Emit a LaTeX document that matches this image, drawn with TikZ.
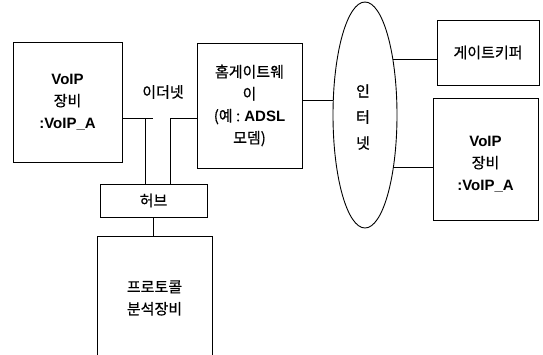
\documentclass[tikz,border=0pt]{standalone}
\usepackage{fontspec}
\setmainfont{Liberation Sans}
\newfontfamily\kr[FakeBold=0.6]{Noto Sans CJK KR}
\usetikzlibrary{shapes.geometric}
\tikzset{
  box/.style={draw, line width=0.9pt, inner sep=0pt, align=center,
    font=\fontsize{15}{22}\selectfont},
  lbl/.style={inner sep=0pt, align=center, font=\fontsize{15}{22}\selectfont},
  wire/.style={line width=0.9pt},
}
\newcommand{\lat}[1]{{\fontsize{15}{22}\selectfont\bfseries #1}}
\begin{document}
\begin{tikzpicture}[x=1pt,y=-1pt]
\useasboundingbox (0,0) rectangle (543,354);
% boxes
\node[box, minimum width=109pt, minimum height=120pt] (lv) at (67.5,102)
  {\lat{VoIP}\\{\kr 장비}\\\lat{:VoIP\_A}};
\node[box, minimum width=105pt, minimum height=125pt] (gw) at (249.5,105.5)
  {{\kr 홈게이트웨}\\{\kr 이}\\{\kr (예\ :}\ \lat{ADSL}\\{\kr 모뎀)}};
\node[draw, line width=0.9pt, ellipse, inner sep=0pt, minimum width=64pt, minimum height=226pt] (net) at (365,115) {};
\node[lbl] (nettext) at (363,117) {{\kr 인}\\[4pt]{\kr 터}\\[4pt]{\kr 넷}};
\node[box, minimum width=102pt, minimum height=65pt] (gk) at (488,52.5) {\kr 게이트키퍼};
\node[box, minimum width=105pt, minimum height=122pt] (rv) at (485.5,159) {};
\node[lbl] (rvtext) at (485.5,164) {\lat{VoIP}\\{\kr 장비}\\\lat{:VoIP\_A}};
\node[box, minimum width=107pt, minimum height=33pt] (hub) at (153.5,200.5) {\kr 허브};
\node[box, minimum width=115pt, minimum height=124pt] (pa) at (154.5,298)
  {{\kr 프로토콜}\\{\kr 분석장비}};
\node[lbl] (eth) at (163,92) {\kr 이더넷};
% connectors
\coordinate (e1) at (153,118);
\coordinate (e2) at (145,118);
\coordinate (e3) at (170,118);
\draw[wire] (lv.east |- e1) -- (e1);
\draw[wire] (e2) -- (e2 |- hub.north);
\draw[wire] (gw.west |- e3) -- (e3) -- (e3 |- hub.north);
\draw[wire] (gw.east |- net.155) -- (net.155);
\draw[wire] (net.63) -- (net.63 -| gk.west);
\draw[wire] (net.-61) -- (net.-61 -| rv.west);
\draw[wire] (hub.south) -- (hub.south |- pa.north);
\end{tikzpicture}
\end{document}
